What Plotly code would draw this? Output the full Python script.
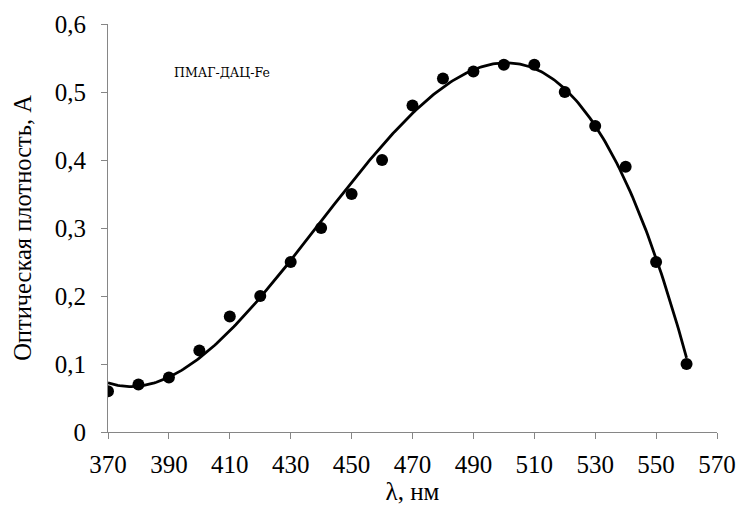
import numpy as np
import plotly.graph_objects as go

# Absorption spectrum of the ПМАГ-ДАЦ-Fe complex
wavelength = [370, 380, 390, 400, 410, 420, 430, 440, 450, 460,
              470, 480, 490, 500, 510, 520, 530, 540, 550, 560]
absorbance = [0.06, 0.07, 0.08, 0.12, 0.17, 0.20, 0.25, 0.30, 0.35, 0.40,
              0.48, 0.52, 0.53, 0.54, 0.54, 0.50, 0.45, 0.39, 0.25, 0.10]

x_ticks = [370, 390, 410, 430, 450, 470, 490, 510, 530, 550, 570]
y_ticks = [0, 0.1, 0.2, 0.3, 0.4, 0.5, 0.6]
y_tick_text = ["0", "0,1", "0,2", "0,3", "0,4", "0,5", "0,6"]

# Third-order polynomial trendline through the measured points
x_arr = np.array(wavelength, dtype=float)
coef = np.polyfit((x_arr - 465.0) / 100.0, np.array(absorbance), 3)
x_fit = np.linspace(min(wavelength), max(wavelength), 300)
y_fit = np.polyval(coef, (x_fit - 465.0) / 100.0)

FONT = "Liberation Serif"
AXIS_COLOR = "#868686"

fig = go.Figure()
fig.add_trace(go.Scatter(
    x=x_fit, y=y_fit, mode="lines",
    line=dict(color="black", width=2.8),
    hoverinfo="skip", showlegend=False,
))
fig.add_trace(go.Scatter(
    x=wavelength, y=absorbance, mode="markers",
    marker=dict(color="black", size=12),
    showlegend=False,
))

fig.add_annotation(
    x=407.4, y=0.529, xref="x", yref="y",
    text="ПМАГ-ДАЦ-Fe", showarrow=False,
    font=dict(family="DejaVu Serif", size=12.5, color="black"),
)

fig.update_layout(
    template="none",
    width=739, height=506,
    margin=dict(l=108, r=22, t=24, b=74),
    paper_bgcolor="white", plot_bgcolor="white",
    font=dict(family=FONT, color="black"),
    xaxis=dict(
        range=[370, 570], tickmode="array", tickvals=x_ticks,
        showgrid=False, zeroline=False,
        showline=True, linecolor=AXIS_COLOR, linewidth=1,
        ticks="outside", tickcolor=AXIS_COLOR, ticklen=6, tickwidth=1,
        ticklabelstandoff=4,
        tickfont=dict(family=FONT, size=25, color="black"),
        title=dict(text="λ, нм", font=dict(family=FONT, size=25, color="black"),
                   standoff=0),
    ),
    yaxis=dict(
        range=[0, 0.6], tickmode="array", tickvals=y_ticks, ticktext=y_tick_text,
        showgrid=False, zeroline=False,
        showline=True, linecolor=AXIS_COLOR, linewidth=1,
        ticks="outside", tickcolor=AXIS_COLOR, ticklen=6, tickwidth=1,
        ticklabelstandoff=10,
        tickfont=dict(family=FONT, size=25, color="black"),
        title=dict(text="Оптическая плотность, А",
                   font=dict(family=FONT, size=24.5, color="black"), standoff=16),
    ),
)

fig.write_html("out.html")
